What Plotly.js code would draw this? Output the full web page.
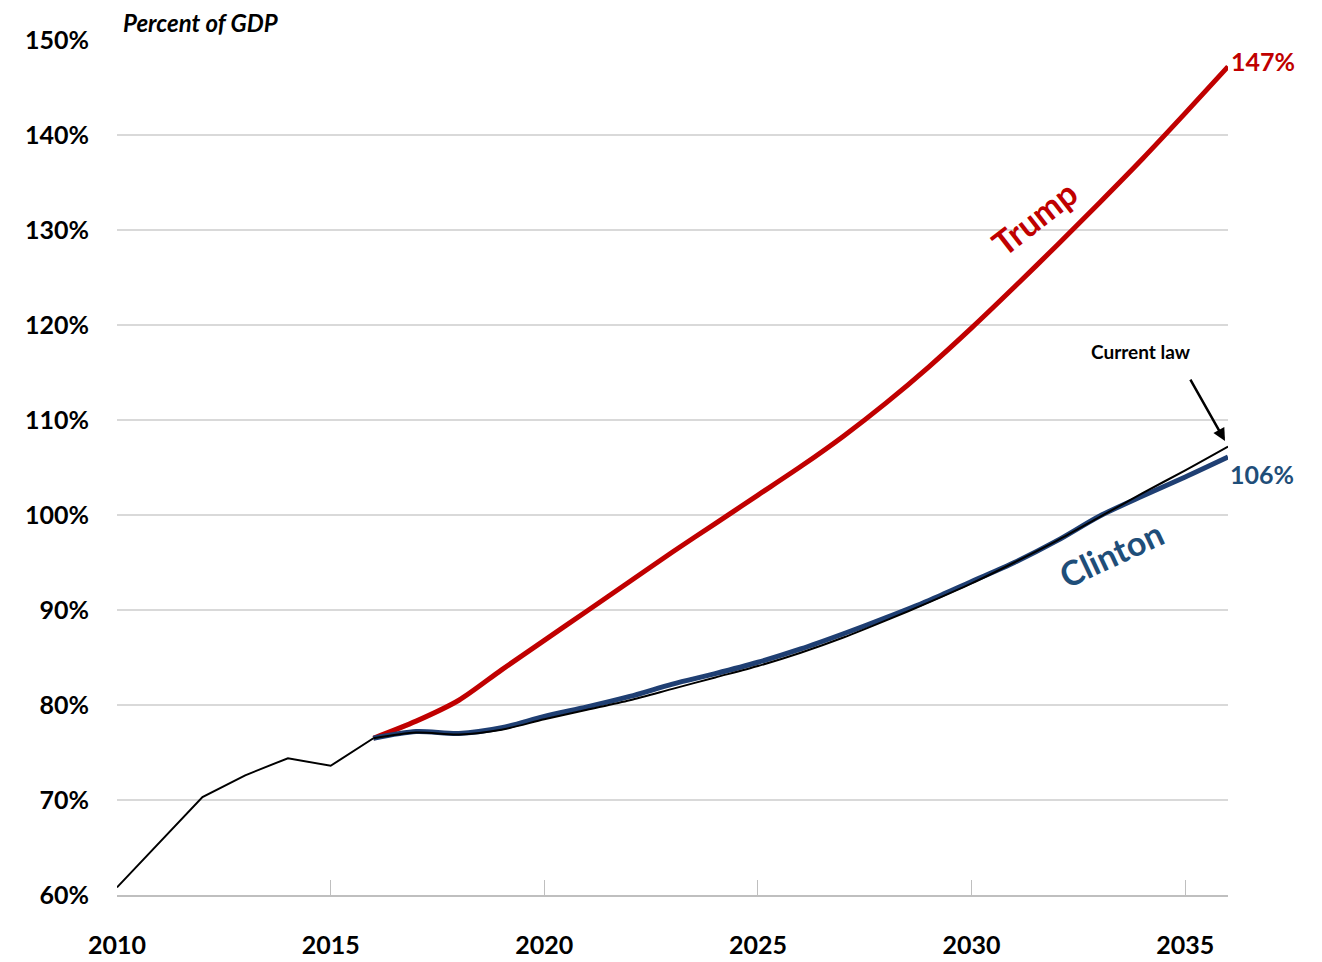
<!DOCTYPE html>
<html>
<head>
<meta charset="utf-8">
<script src="https://cdn.plot.ly/plotly-3.0.1.min.js"></script>
<style>
  html, body { margin: 0; padding: 0; background: #fff; }
  #chart { width: 1322px; height: 962px; }
</style>
</head>
<body>
<div id="chart"></div>
<script>
// ---- data (percent of GDP) ----
const years = [2010,2011,2012,2013,2014,2015,2016,2017,2018,2019,2020,2021,2022,2023,2024,2025,2026,2027,2028,2029,2030,2031,2032,2033,2034,2035,2036];
const projYears = [2016,2017,2018,2019,2020,2021,2022,2023,2024,2025,2026,2027,2028,2029,2030,2031,2032,2033,2034,2035,2036];

// Historical + current law (black)
const currentLaw = [60.8,65.6,70.3,72.6,74.4,73.6,76.5,77.1,76.9,77.4,78.5,79.5,80.5,81.7,82.9,84.1,85.5,87.1,88.9,90.8,92.8,95.0,97.3,99.8,102.3,104.7,107.2];
// Trump plan (red)
const trump = [76.5,78.3,80.5,83.7,86.8,89.9,93.0,96.1,99.1,102.1,105.1,108.3,111.8,115.6,119.7,124.0,128.4,132.9,137.5,142.3,147.2];
// Clinton plan (blue)
const clinton = [76.5,77.2,77.0,77.6,78.8,79.8,80.9,82.2,83.3,84.5,85.9,87.5,89.2,91.0,93.0,95.0,97.3,99.9,102.0,104.0,106.1];

const xTicks = [2010,2015,2020,2025,2030,2035];
const yTicks = [60,70,80,90,100,110,120,130,140,150];

const RED = '#C00000';
const BLUE = '#1F3F73';
const BLUE_TXT = '#1F4E79';
const FONT = 'Lato, "Liberation Sans", sans-serif';

const histYears = years.slice(0, 7);
const histVals = currentLaw.slice(0, 7);
const lawVals = currentLaw.slice(6);

const traces = [
  { x: projYears, y: trump, type: 'scatter', mode: 'lines', name: 'Trump',
    line: { color: RED, width: 5, shape: 'spline', smoothing: 0.8 } },
  { x: projYears, y: clinton, type: 'scatter', mode: 'lines', name: 'Clinton',
    line: { color: BLUE, width: 5, shape: 'spline', smoothing: 0.8 } },
  { x: histYears, y: histVals, type: 'scatter', mode: 'lines', name: 'History',
    line: { color: '#000000', width: 2 } },
  { x: projYears, y: lawVals, type: 'scatter', mode: 'lines', name: 'Current law',
    line: { color: '#000000', width: 2, shape: 'spline', smoothing: 0.8 } }
];

const layout = {
  width: 1322, height: 962,
  margin: { l: 117, r: 94, t: 40, b: 67 },
  paper_bgcolor: '#ffffff', plot_bgcolor: '#ffffff',
  showlegend: false,
  font: { family: FONT, color: '#000', size: 25, weight: 'bold' },
  xaxis: {
    range: [2010, 2036],
    tickvals: xTicks, ticktext: xTicks.map(String),
    showgrid: false, zeroline: false,
    showline: true, linecolor: '#bfbfbf', linewidth: 2,
    ticks: 'inside', ticklen: 15, tickwidth: 1, tickcolor: '#bfbfbf',
    ticklabelstandoff: 27,
    tickfont: { family: FONT, size: 25, color: '#000', weight: 'bold' }
  },
  yaxis: {
    range: [60, 150],
    tickvals: yTicks, ticktext: yTicks.map(v => v + '%'),
    showgrid: true, gridcolor: '#d9d9d9', gridwidth: 1.5,
    zeroline: false, showline: false, ticks: '',
    ticklabelstandoff: 27,
    tickfont: { family: FONT, size: 25, color: '#000', weight: 'bold' }
  },
  annotations: [
    { xref: 'paper', yref: 'paper', x: 0, y: 1, xanchor: 'left', yanchor: 'middle',
      xshift: 4, yshift: 18, showarrow: false, text: '<b><i>Percent of GDP</i></b>',
      font: { family: FONT, size: 24, color: '#000' } },
    { x: 2036, y: trump[trump.length - 1], xref: 'x', yref: 'y', xanchor: 'left', yanchor: 'middle',
      xshift: 1, yshift: 6, showarrow: false, text: '<b>147%</b>',
      font: { family: FONT, size: 25, color: RED } },
    { x: 2036, y: 104.3, xref: 'x', yref: 'y', xanchor: 'left', yanchor: 'middle',
      showarrow: false, text: '<b>106%</b>',
      font: { family: FONT, size: 25, color: BLUE_TXT } },
    { x: 2033.96, y: 117.2, xref: 'x', yref: 'y', xanchor: 'center', yanchor: 'middle',
      showarrow: false, text: '<b>Current law</b>',
      font: { family: FONT, size: 19, color: '#000' } },
    { x: 2035.93, y: 107.8, xref: 'x', yref: 'y', axref: 'x', ayref: 'y',
      ax: 2035.1, ay: 114.4, text: '', showarrow: true,
      arrowhead: 2, arrowsize: 1, arrowwidth: 2.5, arrowcolor: '#000' },
    { x: 2031.46, y: 131.3, xref: 'x', yref: 'y', showarrow: false, textangle: -38,
      text: '<b>Trump</b>', font: { family: FONT, size: 34, color: RED } },
    { x: 2033.26, y: 96.0, xref: 'x', yref: 'y', showarrow: false, textangle: -25,
      text: '<b>Clinton</b>', font: { family: FONT, size: 34, color: BLUE_TXT } }
  ]
};

Plotly.newPlot('chart', traces, layout, { staticPlot: true, displayModeBar: false });
</script>
</body>
</html>
